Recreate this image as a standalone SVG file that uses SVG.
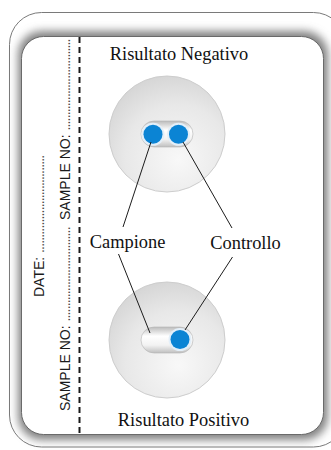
<svg xmlns="http://www.w3.org/2000/svg" width="331" height="450" viewBox="0 0 331 450">
  <style>
    .serif { font-family: "Liberation Serif", "Times New Roman", serif; font-size: 18.4px; fill: #111; }
    .sans { font-family: "Liberation Sans", Arial, sans-serif; font-size: 14px; fill: #1a1a1a; }
    .dots { letter-spacing: -0.85px; fill: #4a4a4a; }
    .wire { stroke: #1c1c1c; stroke-width: 1; fill: none; }
    .disc { fill: url(#discGrad); stroke: #cdcdcd; stroke-width: 1; }
    .pill { fill: url(#pillGrad); stroke: #b4b4b4; stroke-width: 0.6; }
    .halo { fill: #e3eff9; }
    .dot { fill: #0b84d4; }
  </style>
  <defs>
    <radialGradient id="discGrad" cx="0.58" cy="0.68" r="0.75" fx="0.6" fy="0.72">
      <stop offset="0" stop-color="#f8f8f8"/>
      <stop offset="0.6" stop-color="#e8e8e8"/>
      <stop offset="1" stop-color="#d2d2d2"/>
    </radialGradient>
    <linearGradient id="pillGrad" x1="0" y1="0" x2="0" y2="1">
      <stop offset="0" stop-color="#bcbcbc"/>
      <stop offset="0.35" stop-color="#ffffff"/>
      <stop offset="0.7" stop-color="#f2f2f2"/>
      <stop offset="1" stop-color="#bfbfbf"/>
    </linearGradient>
    <filter id="rim" x="-10%" y="-10%" width="120%" height="120%">
      <feGaussianBlur stdDeviation="4"/>
    </filter>
  </defs>

  <!-- card frame with raised rim -->
  <g id="frame">
    <rect x="9.5" y="12.5" width="336" height="434.5" rx="32" fill="#ffffff" stroke="#7a7a7a" stroke-width="1"/>
    <rect x="18" y="31" width="310" height="409" rx="24" fill="#828282" filter="url(#rim)"/>
    <rect x="21.5" y="36.5" width="302" height="398" rx="22" fill="#ffffff" stroke="#6a6a6a" stroke-width="1"/>
    <line x1="79.5" y1="37" x2="79.5" y2="434" stroke="#1a1a1a" stroke-width="2" stroke-dasharray="6 4"/>
  </g>

  <!-- handwritten fields along the tear-off strip -->
  <g id="fields">
    <text class="sans" transform="translate(70,220) rotate(-90)">SAMPLE NO: <tspan class="dots">..............................</tspan></text>
    <text class="sans" transform="translate(44,297) rotate(-90)">DATE: <tspan class="dots">................................</tspan></text>
    <text class="sans" transform="translate(70,411) rotate(-90)">SAMPLE NO: <tspan class="dots">...............................</tspan></text>
  </g>

  <!-- negative result window -->
  <g id="negativo">
    <text class="serif" x="179" y="60" text-anchor="middle">Risultato Negativo</text>
    <circle class="disc" cx="167" cy="134" r="58"/>
    <rect class="pill" x="141" y="121" width="52" height="26" rx="13"/>
    <circle class="halo" cx="153" cy="134.3" r="11.5"/>
    <circle class="halo" cx="178.5" cy="134.3" r="11.5"/>
    <circle class="dot" cx="153" cy="134.3" r="9.5"/>
    <circle class="dot" cx="178.5" cy="134.3" r="9.5"/>
  </g>

  <!-- positive result window -->
  <g id="positivo">
    <circle class="disc" cx="167" cy="340" r="58"/>
    <rect class="pill" x="141" y="327" width="52" height="26" rx="13"/>
    <circle class="halo" cx="180" cy="339.5" r="11.5"/>
    <circle class="dot" cx="180" cy="339.5" r="9.5"/>
    <text class="serif" x="183.5" y="426" text-anchor="middle">Risultato Positivo</text>
  </g>

  <g id="campione">
    <text class="serif" x="127.5" y="248" text-anchor="middle">Campione</text>
  </g>
  <g id="controllo">
    <text class="serif" x="245.5" y="249" text-anchor="middle">Controllo</text>
  </g>

  <!-- leader lines from labels to spots -->
  <g id="connectors">
    <line class="wire" x1="151" y1="142" x2="123" y2="227"/>
    <line class="wire" x1="183" y1="142" x2="232" y2="228"/>
    <line class="wire" x1="118.5" y1="254" x2="150" y2="333"/>
    <line class="wire" x1="232.5" y1="257" x2="185" y2="330"/>
  </g>
</svg>
